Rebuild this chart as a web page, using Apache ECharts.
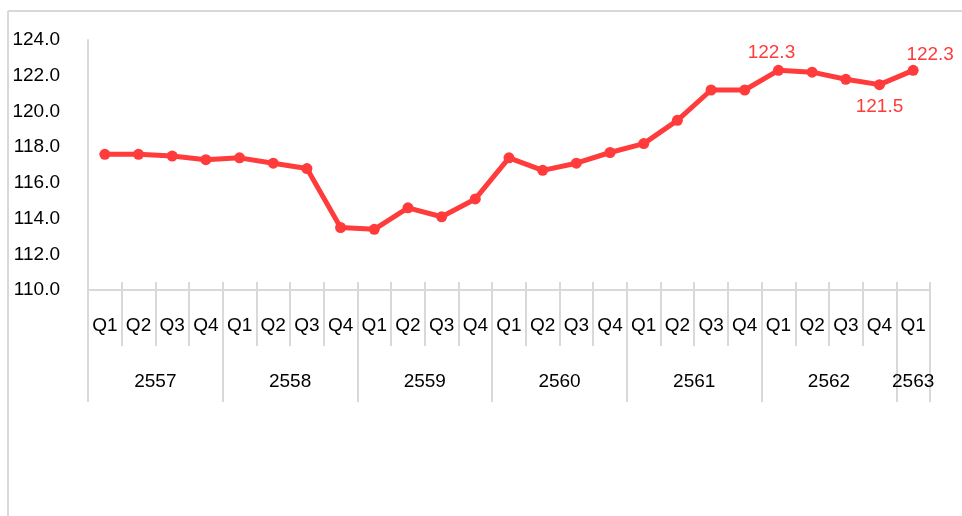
<!DOCTYPE html>
<html>
<head>
<meta charset="utf-8">
<script src="https://cdn.jsdelivr.net/npm/echarts@6/dist/echarts.min.js"></script>
<style>
  html, body { margin: 0; padding: 0; background: #fff; }
  #chart { width: 962px; height: 516px; }
</style>
</head>
<body>
<div id="chart"></div>
<script>
// quarter labels along the bottom axis
const quarters = ['Q1','Q2','Q3','Q4','Q1','Q2','Q3','Q4','Q1','Q2','Q3','Q4',
  'Q1','Q2','Q3','Q4','Q1','Q2','Q3','Q4','Q1','Q2','Q3','Q4','Q1']
// years and how many quarters fall under each
const years = ['2557','2558','2559','2560','2561','2562','2563']
const yearQuarters = [4, 4, 4, 4, 4, 4, 1]
// index values
const values = [117.6, 117.6, 117.5, 117.3, 117.4, 117.1, 116.8, 113.5, 113.4, 114.6, 114.1, 115.1,
  117.4, 116.7, 117.1, 117.7, 118.2, 119.5, 121.2, 121.2, 122.3, 122.2, 121.8, 121.5, 122.3]
const yTicks = [110, 112, 114, 116, 118, 120, 122, 124]

const RED = '#FF3B3B'
const GRID_LINE = '#D9D9D9'
const FONT = "'Liberation Sans', Arial, sans-serif"

// year axis works on half-quarter steps so labels can sit between categories
const yearSlots = new Array(quarters.length * 2 + 1).fill('')
const yearTickIdx = new Set()
const yearLabelIdx = new Set()
let start = 0
years.forEach((y, i) => {
  const mid = start * 2 + yearQuarters[i]
  yearSlots[mid] = y
  yearLabelIdx.add(mid)
  yearTickIdx.add(start * 2)
  start += yearQuarters[i]
  yearTickIdx.add(start * 2)
})

// only a few points carry a value label
const labelStyle = {
  20: { position: 'top', distance: 3, offset: [-7, 0] },
  23: { position: 'bottom', distance: 7 },
  24: { position: 'top', distance: 1, offset: [17, 0] }
}
const seriesData = values.map((v, i) => {
  if (!labelStyle[i]) return v
  return {
    value: v,
    label: Object.assign({
      show: true, color: RED, fontSize: 19, fontFamily: FONT,
      formatter: (p) => p.value.toFixed(1)
    }, labelStyle[i])
  }
})

const myChart = echarts.init(document.getElementById('chart'))
const option = {
  animation: false,
  backgroundColor: '#fff',
  textStyle: { fontFamily: FONT },
  graphic: [
    { type: 'line', shape: { x1: 8, y1: 11, x2: 962, y2: 11 }, style: { stroke: GRID_LINE, lineWidth: 2 } },
    { type: 'line', shape: { x1: 8, y1: 11, x2: 8, y2: 516 }, style: { stroke: GRID_LINE, lineWidth: 2 } }
  ],
  grid: { left: 88, right: 32, top: 40, bottom: 226 },
  xAxis: [
    {
      type: 'category',
      data: quarters,
      position: 'bottom',
      boundaryGap: true,
      axisLine: { show: true, lineStyle: { color: GRID_LINE, width: 2 } },
      axisTick: { show: true, inside: true, length: 8, interval: 0, lineStyle: { color: GRID_LINE, width: 2 } },
      axisLabel: { interval: 0, margin: 26, color: '#000', fontSize: 19, fontFamily: FONT }
    },
    {
      type: 'category',
      data: quarters,
      position: 'bottom',
      boundaryGap: true,
      axisLine: { show: false },
      axisTick: { show: true, length: 56, interval: 0, lineStyle: { color: GRID_LINE, width: 2 } },
      axisLabel: { show: false }
    },
    {
      type: 'category',
      data: yearSlots,
      position: 'bottom',
      offset: 56,
      boundaryGap: false,
      axisLine: { show: false },
      axisTick: {
        show: true, length: 56,
        interval: (idx) => yearTickIdx.has(idx),
        lineStyle: { color: GRID_LINE, width: 2 }
      },
      axisLabel: {
        interval: (idx) => yearLabelIdx.has(idx),
        margin: 26, color: '#000', fontSize: 19, fontFamily: FONT, hideOverlap: false
      }
    }
  ],
  yAxis: {
    type: 'value',
    min: yTicks[0],
    max: yTicks[yTicks.length - 1],
    interval: 2,
    axisLine: { show: true, lineStyle: { color: GRID_LINE, width: 2 } },
    axisTick: { show: false },
    splitLine: { show: false },
    axisLabel: {
      margin: 28, color: '#000', fontSize: 19, fontFamily: FONT,
      padding: [0, 0, 4, 0],
      formatter: (v) => v.toFixed(1)
    }
  },
  series: [
    {
      type: 'line',
      xAxisIndex: 0,
      data: seriesData,
      symbol: 'circle',
      symbolSize: 11,
      lineStyle: { color: RED, width: 5 },
      itemStyle: { color: RED }
    }
  ]
}
option && myChart.setOption(option)
</script>
</body>
</html>
